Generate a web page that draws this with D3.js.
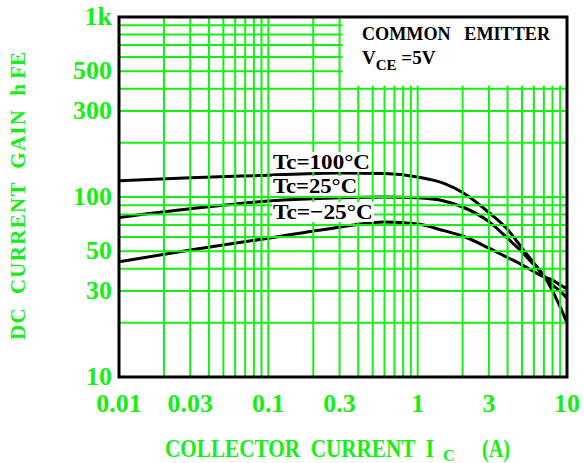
<!DOCTYPE html>
<html><head><meta charset="utf-8">
<script src="https://cdn.jsdelivr.net/npm/d3@7"></script>
<style>body{margin:0;background:#fff} text{white-space:pre}</style></head>
<body>
<svg id="c" width="584" height="463"></svg>
<script>
// ---- data ----
const currents = [0.01, 0.03, 0.1, 0.3, 0.6, 1, 1.5, 2, 3, 4, 5, 6, 7, 8, 9, 10];
const hfe100  = [123, 128, 132, 136, 135, 129, 119, 106, 82, 66, 52, 43, 36.5, 30, 24.5, 20];
const hfe25   = [77, 86, 95, 99, 100, 99, 95, 88, 73, 59, 49.5, 42, 36.5, 32.4, 30, 27.4];
const hfeM25  = [43.6, 50.8, 59, 68, 72.6, 70.7, 65, 60.7, 52, 46.1, 42, 38.5, 36, 34.5, 32.4, 31];
const seriesNames = ["Tc=100°C", "Tc=25°C", "Tc=\u221225°C"];
const xTicks = [0.01, 0.03, 0.1, 0.3, 1, 3, 10];
const xTickLabels = ["0.01", "0.03", "0.1", "0.3", "1", "3", "10"];
const yTicks = [10, 30, 50, 100, 300, 500, 1000];
const yTickLabels = ["10", "30", "50", "100", "300", "500", "1k"];
const xTitle = "COLLECTOR  CURRENT  I", xTitleSub = "C", xTitleUnit = "(A)";
const yTitle = "DC  CURRENT  GAIN  h", yTitleSub = "FE";
const legendTitle = "COMMON   EMITTER", legendV = "V", legendSub = "CE", legendVal = " =5V";

// ---- layout ----
const L = 119, R = 567, T = 17, B = 377;
const GREEN = "#14f014";
const FONT = "'Liberation Serif', 'Times New Roman', serif";
const svg = d3.select("#c");
svg.append("rect").attr("width", 584).attr("height", 463).attr("fill", "#fff");

const x = d3.scaleLog().domain([0.01, 10]).range([L, R]);
const y = d3.scaleLog().domain([10, 1000]).range([B, T]);

// curves
const series = [hfe100, hfe25, hfeM25];
const line = d3.line().x(d => x(d[0])).y(d => y(d[1])).curve(d3.curveMonotoneX);
series.forEach(s => {
  svg.append("path").datum(currents.map((c, i) => [c, s[i]]))
    .attr("d", line).attr("fill", "none").attr("stroke", "#000")
    .attr("stroke-width", 3).attr("stroke-linejoin", "round");
});

// grid
const xGrid = [], yGrid = [];
[0.01, 0.1, 1].forEach(d => { for (let k = 1; k <= 9; k++) { if (!(d === 0.01 && k === 1)) xGrid.push(d * k); } });
[10, 100].forEach(d => { for (let k = 1; k <= 9; k++) { if (!(d === 10 && k === 1)) yGrid.push(d * k); } });
const g = svg.append("g").attr("stroke", GREEN).attr("stroke-width", 2);
g.selectAll("line.vx").data(xGrid).join("line")
  .attr("x1", d => x(d)).attr("x2", d => x(d)).attr("y1", T).attr("y2", B);
g.selectAll("line.hy").data(yGrid).join("line")
  .attr("y1", d => y(d)).attr("y2", d => y(d)).attr("x1", L).attr("x2", R);

// legend box
svg.append("rect").attr("x", x(0.3) + 3).attr("y", T).attr("width", R - x(0.3) - 3).attr("height", y(400) - T - 3).attr("fill", "#fff");
svg.append("text").attr("x", 362).attr("y", 40).attr("font-family", FONT).attr("font-weight", "bold")
  .attr("font-size", 19).attr("textLength", 188).attr("lengthAdjust", "spacingAndGlyphs").text(legendTitle);
const lv = svg.append("text").attr("x", 362).attr("y", 64).attr("font-family", FONT).attr("font-weight", "bold").attr("font-size", 19);
lv.append("tspan").text(legendV);
lv.append("tspan").attr("dy", 6).attr("font-size", 15).text(legendSub);
lv.append("tspan").attr("dy", -6).text(legendVal);

// curve labels
const labelPos = [[273, 169], [273, 193], [273, 219]];
const labelLen = [97, 84, 100];
seriesNames.forEach((n, i) => {
  const t = svg.append("text").attr("x", labelPos[i][0]).attr("y", labelPos[i][1])
    .attr("font-family", FONT).attr("font-weight", "bold").attr("font-size", 22)
    .attr("textLength", labelLen[i]).attr("lengthAdjust", "spacingAndGlyphs").text(n);
  const bb = t.node().getBBox();
  svg.insert("rect", () => t.node()).attr("x", bb.x - 1).attr("y", bb.y + 3).attr("width", bb.width + 2).attr("height", bb.height - 5).attr("fill", "#fff");
});

// frame
svg.append("rect").attr("x", L).attr("y", T).attr("width", R - L).attr("height", B - T)
  .attr("fill", "none").attr("stroke", "#000").attr("stroke-width", 3);

// tick labels
svg.selectAll("text.xt").data(xTicks).join("text").attr("class", "xt")
  .attr("x", d => x(d)).attr("y", 412).attr("text-anchor", "middle")
  .attr("font-family", FONT).attr("font-weight", "bold").attr("font-size", 26).attr("fill", GREEN)
  .text((d, i) => xTickLabels[i]);
svg.selectAll("text.yt").data(yTicks).join("text").attr("class", "yt")
  .attr("x", 112).attr("y", d => y(d) + 8).attr("text-anchor", "end")
  .attr("font-family", FONT).attr("font-weight", "bold").attr("font-size", 26).attr("fill", GREEN)
  .text((d, i) => yTickLabels[i]);

// axis titles
const xt = svg.append("g").attr("font-family", FONT).attr("font-weight", "bold").attr("fill", GREEN);
xt.append("text").attr("transform", "translate(165,457) scale(0.964,1.15)").attr("font-size", 22).text(xTitle);
xt.append("text").attr("x", 443).attr("y", 461).attr("font-size", 16).text(xTitleSub);
xt.append("text").attr("transform", "translate(482,457) scale(0.92,1.15)").attr("font-size", 22).text(xTitleUnit);
const yt = svg.append("text").attr("transform", "translate(25,340) rotate(-90)")
  .attr("font-family", FONT).attr("font-weight", "bold").attr("font-size", 21).attr("fill", GREEN);
yt.append("tspan").attr("textLength", 256).attr("lengthAdjust", "spacing").text(yTitle);
yt.append("tspan").attr("dx", 4).text(yTitleSub);
</script>
</body></html>
